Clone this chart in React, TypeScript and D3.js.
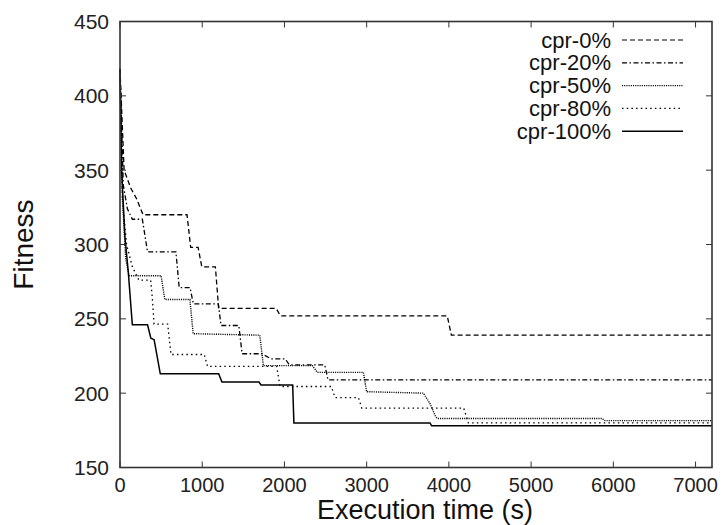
import React from 'react';
import * as d3 from 'd3';

// fitness over execution time
const cpr0: [number, number][] = [
  [0, 418], [50, 350], [130, 338], [200, 331], [280, 320], [815, 320], [860, 298], [950, 298],
  [995, 285], [1160, 285], [1200, 257], [1900, 257], [1950, 252], [3980, 252], [4030, 239], [7200, 239],
];
const cpr20: [number, number][] = [
  [0, 418], [40, 340], [90, 324], [150, 317], [272, 317], [335, 295], [680, 295], [720, 271],
  [852, 271], [892, 260], [1196, 260], [1229, 245.5], [1445, 245.5], [1485, 226.5], [1723, 226.5],
  [1840, 223], [2010, 223], [2060, 219], [2490, 219], [2530, 209], [7200, 209],
];
const cpr50: [number, number][] = [
  [0, 418], [30, 330], [70, 290], [110, 279], [500, 279], [545, 263], [850, 263], [890, 240],
  [1700, 239], [1744, 218.5], [2340, 218.5], [2400, 214], [2960, 214], [3000, 201], [3690, 200],
  [3770, 193], [3840, 184], [3860, 183], [5860, 183], [5900, 181.5], [7200, 181.5],
];
const cpr80: [number, number][] = [
  [0, 418], [30, 330], [80, 300], [150, 285], [230, 276], [373, 276], [393, 264], [414, 246.5],
  [580, 246.5], [620, 226], [1025, 226], [1065, 218], [1906, 218], [1946, 204.5], [2570, 204.5],
  [2616, 197], [2900, 197], [2940, 190], [4180, 190], [4237, 180], [7200, 180],
];
const cpr100: [number, number][] = [
  [0, 418], [20, 350], [60, 305], [100, 282], [150, 246], [335, 246], [375, 237], [415, 236],
  [490, 213], [1200, 213], [1240, 207.5], [1690, 207.5], [1715, 205.5], [2100, 205.5], [2115, 180],
  [3770, 180], [3790, 178], [7200, 178],
];

const seriesNames = ['cpr-0%', 'cpr-20%', 'cpr-50%', 'cpr-80%', 'cpr-100%'];
const seriesData = [cpr0, cpr20, cpr50, cpr80, cpr100];
const dashes = ['5,3', '5,2.5,1.5,2.5', '1.1,1.1', '1.5,3.2', null];

const xTicks = [0, 1000, 2000, 3000, 4000, 5000, 6000, 7000];
const yTicks = [150, 200, 250, 300, 350, 400, 450];

const W = 727;
const H = 525;
const L = 120, R = 712, T = 21.5, B = 467.5;
const font = '"Liberation Sans", Arial, Helvetica, sans-serif';

export default function App() {
  const x = d3.scaleLinear().domain([0, 7200]).range([L, R]);
  const y = d3.scaleLinear().domain([150, 450]).range([B, T]);
  const line = d3.line<[number, number]>().x((d) => x(d[0])).y((d) => y(d[1]));
  const tick = 6;

  return (
    <svg width={W} height={H} style={{ position: 'absolute', left: 0, top: 0, background: '#fff' }}
      fontFamily={font}>
      {/* series */}
      <g fill="none" stroke="#000">
        {seriesData.map((s, i) => (
          <path key={i} d={line(s) ?? ''} strokeWidth={i === 4 ? 1.5 : i === 2 ? 1.4 : 1.3}
            strokeDasharray={dashes[i] ?? undefined} />
        ))}
      </g>

      {/* ticks, mirrored on all sides */}
      <g stroke="#333" strokeWidth={1}>
        {xTicks.map((t) => (
          <g key={t}>
            <line x1={x(t)} x2={x(t)} y1={B} y2={B - tick} />
            <line x1={x(t)} x2={x(t)} y1={T} y2={T + tick} />
          </g>
        ))}
        {yTicks.map((t) => (
          <g key={t}>
            <line x1={L} x2={L + tick} y1={y(t)} y2={y(t)} />
            <line x1={R} x2={R - tick} y1={y(t)} y2={y(t)} />
          </g>
        ))}
      </g>
      <rect x={L} y={T} width={R - L} height={B - T} fill="none" stroke="#333" strokeWidth={1.6} />

      {/* tick labels */}
      <g fontSize={21} fill="#222">
        {xTicks.map((t) => (
          <text key={t} x={x(t)} y={B + 17} textAnchor="middle" dominantBaseline="central" fontSize={20}>{t}</text>
        ))}
        {yTicks.map((t) => (
          <text key={t} x={L - 11} y={y(t)} textAnchor="end" dominantBaseline="central">{t}</text>
        ))}
      </g>

      {/* axis titles */}
      <text x={(L + R) / 2 + 9} y={510} fontSize={27} textAnchor="middle" dominantBaseline="central" fill="#111">
        Execution time (s)
      </text>
      <text transform={`translate(23,${(T + B) / 2}) rotate(-90)`} fontSize={28} textAnchor="middle"
        dominantBaseline="central" fill="#111">Fitness</text>

      {/* legend */}
      <g fontSize={22} fill="#111">
        {seriesNames.map((n, i) => {
          const ly = 40 + i * 22.8;
          return (
            <g key={n}>
              <text x={611} y={ly} textAnchor="end" dominantBaseline="central">{n}</text>
              <line x1={622} x2={683} y1={ly} y2={ly} stroke="#000" strokeWidth={i === 4 ? 1.5 : 1.2}
                strokeDasharray={dashes[i] ?? undefined} />
            </g>
          );
        })}
      </g>
    </svg>
  );
}
